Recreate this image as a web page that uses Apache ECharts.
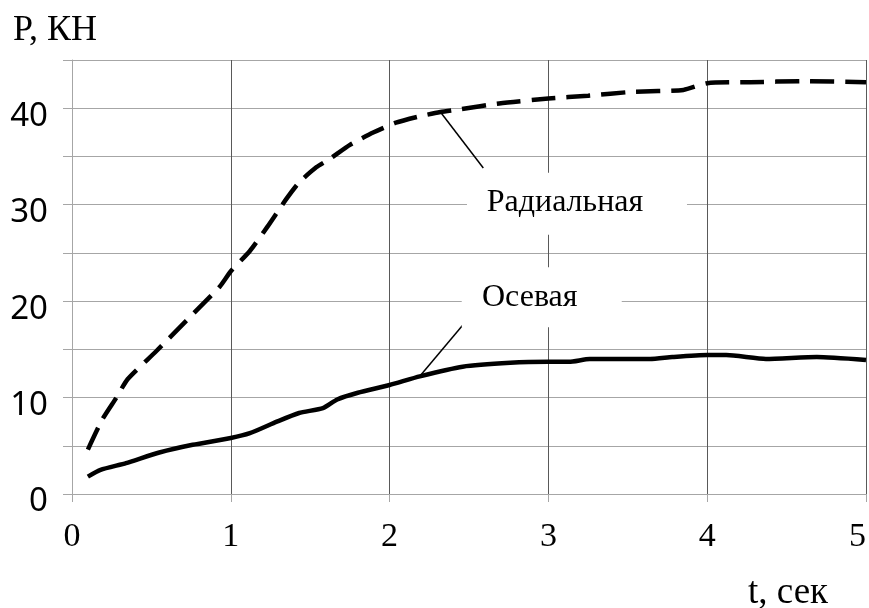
<!DOCTYPE html>
<html><head><meta charset="utf-8">
<script src="https://cdn.jsdelivr.net/npm/echarts@6/dist/echarts.min.js"></script>
<style>html,body{margin:0;padding:0;background:#fff}#c{width:869px;height:608px}</style>
</head><body><div id="c"></div>
<script>
const radialT = [0.1,0.19,0.28,0.35,0.53,0.74,0.93,1.0,1.12,1.23,1.35,1.43,1.54,1.62,1.75,1.9,2.04,2.2,2.32,2.45,2.69,3.0,3.25,3.53,3.85,4.0,4.27,4.6,5.0];
const radialP = [4.6,7.7,10.0,11.9,14.8,18.3,21.5,23.1,25.2,27.7,30.6,32.3,33.9,34.7,36.2,37.5,38.5,39.2,39.6,39.9,40.5,41.0,41.3,41.7,41.9,42.6,42.7,42.8,42.7];
const axialT = [0.1,0.18,0.34,0.55,0.76,1.0,1.12,1.29,1.43,1.58,1.67,1.8,2.0,2.19,2.46,2.76,3.0,3.13,3.26,3.64,3.78,4.0,4.12,4.37,4.69,5.0];
const axialP = [1.8,2.5,3.2,4.3,5.1,5.8,6.3,7.5,8.4,8.9,9.8,10.5,11.3,12.2,13.2,13.6,13.7,13.7,14.0,14.0,14.2,14.4,14.4,14.0,14.2,13.9];
const yLabelValues = [0,10,20,30,40];
const yTitle = 'P, КН';
const xTitle = 't, сек';
const radialName = 'Радиальная';
const axialName = 'Осевая';
const radialLabelAt = [3.18, 30.1];
const radialLeader = [[2.32, 39.6],[2.59, 33.8]];
const axialLabelAt = [2.958, 20.4];
const axialLeader = [[2.19, 12.2],[2.46, 17.5]];

const serif = 'Liberation Serif';
const chart = echarts.init(document.getElementById('c'));
const zip = (a,b) => a.map((v,i)=>[v,b[i]]);
chart.setOption({
  animation: false,
  backgroundColor: '#fff',
  title: [
    {text: yTitle, left: 8, top: 8, textStyle:{fontFamily: serif, fontSize: 36, fontWeight:'normal', color:'#000'}},
    {text: xTitle, left: 743, top: 570, textStyle:{fontFamily: serif, fontSize: 37, fontWeight:'normal', color:'#000'}}
  ],
  grid: {left: 72, right: 3, top: 60, bottom: 114, containLabel: false, outerBoundsMode: 'none'},
  xAxis: {
    type: 'value', min: 0, max: 5, interval: 1,
    axisLine: {show: true, lineStyle:{color:'#a6a6a6', width:1}},
    axisTick: {show: true, length: 8, lineStyle:{color:'#a6a6a6'}},
    splitLine: {show: true, lineStyle:{color:'#595959', width:1}},
    axisLabel: {fontFamily: serif, fontSize: 34, color:'#000', margin: 26, alignMaxLabel: 'right'}
  },
  yAxis: {
    type: 'value', min: 0, max: 45, interval: 5,
    axisLine: {show: true, lineStyle:{color:'#a6a6a6', width:1}},
    axisTick: {show: true, length: 9, lineStyle:{color:'#a6a6a6'}},
    splitLine: {show: true, lineStyle:{color:'#a6a6a6', width:1}},
    axisLabel: {fontFamily: 'Noto Sans', fontSize: 33, color:'#000', margin: 24,
      verticalAlign: 'top', lineHeight: 16,
      formatter: v => yLabelValues.includes(v) ? String(v) : ''}
  },
  series: [
    {
      name: radialName, type: 'line', data: zip(radialT, radialP), showSymbol: false, smooth: 0.2,
      lineStyle: {color:'#000', width: 4.5, type: [24, 11]},
      markPoint: {
        silent: true, symbol: 'rect', symbolSize: [220, 62],
        itemStyle: {color:'#fff'},
        label: {show: true, formatter: radialName, fontFamily: serif, fontSize: 32, color:'#000', offset:[-12,-1]},
        data: [{coord: radialLabelAt}]
      },
      markLine: {
        silent: true, symbol: ['none','none'], label:{show:false},
        lineStyle: {color:'#000', width: 1.5, type:'solid'},
        data: [[{coord: radialLeader[0]},{coord: radialLeader[1]}]]
      }
    },
    {
      name: axialName, type: 'line', data: zip(axialT, axialP), showSymbol: false, smooth: 0.2,
      lineStyle: {color:'#000', width: 4.5, type: 'solid'},
      markPoint: {
        silent: true, symbol: 'rect', symbolSize: [160, 60],
        itemStyle: {color:'#fff'},
        label: {show: true, formatter: axialName, fontFamily: serif, fontSize: 32, color:'#000', offset:[-12,0]},
        data: [{coord: axialLabelAt}]
      },
      markLine: {
        silent: true, symbol: ['none','none'], label:{show:false},
        lineStyle: {color:'#000', width: 1.5, type:'solid'},
        data: [[{coord: axialLeader[0]},{coord: axialLeader[1]}]]
      }
    }
  ]
});
</script>
</body></html>
